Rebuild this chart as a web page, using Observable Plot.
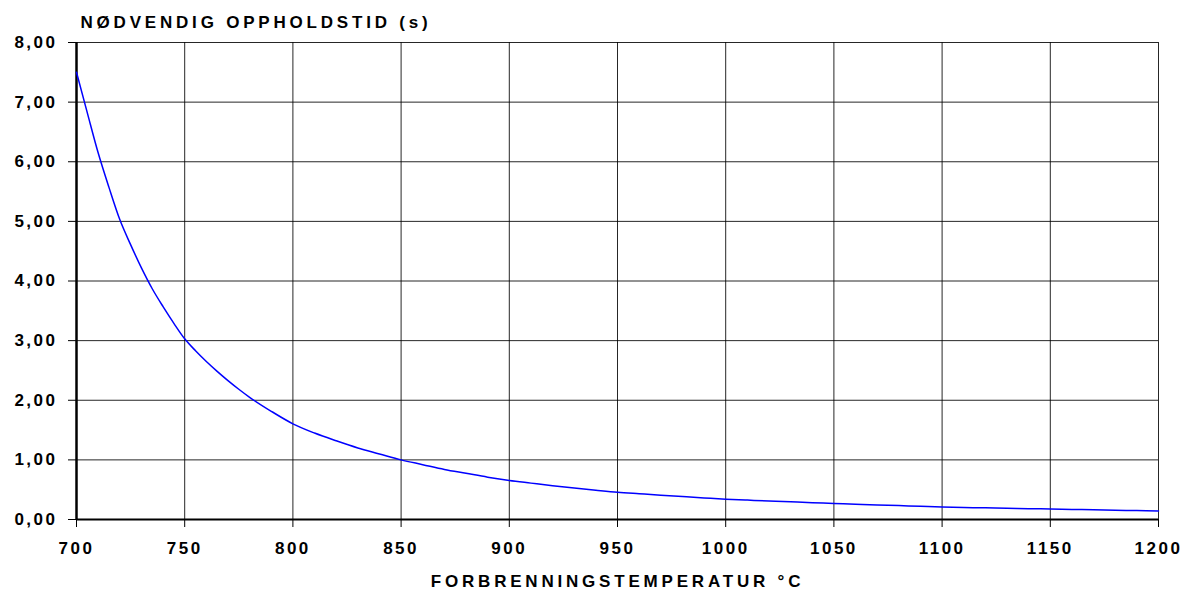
<!DOCTYPE html>
<html><head><meta charset="utf-8">
<script src="https://cdn.jsdelivr.net/npm/d3@7"></script>
<script src="https://cdn.jsdelivr.net/npm/@observablehq/plot@0.6"></script>
<style>
body{margin:0;background:#fff}
.chart text{letter-spacing:2.5px}
.chart g[aria-label="text"] text{letter-spacing:3.8px}
</style>
</head><body><div id="chart"></div>
<script>
const temperatures = [700,705,710,715,720,725,730,735,740,745,750,755,760,765,770,775,780,790,800,810,820,830,840,850,860,870,880,890,900,910,920,930,940,950,960,970,980,990,1000,1010,1020,1030,1040,1050,1060,1070,1080,1090,1100,1110,1120,1130,1140,1150,1160,1170,1180,1190,1200];
const residenceTimes = [7.50,6.82,6.15,5.57,5.03,4.61,4.22,3.87,3.57,3.29,3.03,2.83,2.65,2.485,2.33,2.185,2.05,1.815,1.605,1.45,1.32,1.20,1.10,1.00,0.92,0.84,0.775,0.71,0.654,0.61,0.567,0.528,0.492,0.458,0.432,0.407,0.384,0.362,0.341,0.325,0.31,0.296,0.283,0.27,0.257,0.245,0.233,0.221,0.21,0.202,0.195,0.188,0.182,0.176,0.169,0.162,0.156,0.149,0.143];
const xTicks = [700,750,800,850,900,950,1000,1050,1100,1150,1200];
const yTicks = [0,1,2,3,4,5,6,7,8];
const yTitle = "NØDVENDIG OPPHOLDSTID (s)";
const xTitle = "FORBRENNINGSTEMPERATUR °C";

const data = temperatures.map((t, i) => ({t, v: residenceTimes[i]}));
const fmt = v => v.toFixed(2).replace(".", ",");

const chart = Plot.plot({
  width: 1182, height: 589,
  marginLeft: 76, marginRight: 24, marginTop: 42, marginBottom: 70,
  className: "chart",
  style: {fontFamily: "'Liberation Sans', Arial, sans-serif", fontSize: "17px", fontWeight: "bold", background: "#fff", color: "#000", overflow: "visible"},
  x: {domain: [700, 1200]},
  y: {domain: [0, 8]},
  marks: [
    Plot.gridX(xTicks, {stroke: "#000", strokeOpacity: 0.85, strokeWidth: 1}),
    Plot.gridY(yTicks, {stroke: "#000", strokeOpacity: 0.85, strokeWidth: 1}),
    Plot.axisX(xTicks, {tickSize: 8, tickPadding: 14.5, label: null, tickFormat: d => String(d), stroke: "#000"}),
    Plot.axisY(yTicks, {tickSize: 8, tickPadding: 11, label: null, tickFormat: fmt, stroke: "#000"}),
    Plot.ruleX([700], {stroke: "#000", strokeWidth: 2.5}),
    Plot.ruleY([0], {stroke: "#000", strokeWidth: 2}),
    Plot.line(data, {x: "t", y: "v", stroke: "#0000ff", strokeWidth: 1.5, curve: "monotone-x"}),
    Plot.text([yTitle], {frameAnchor: "top-left", textAnchor: "start", lineAnchor: "middle", dx: 4, dy: -19.5, fontSize: 17, fontWeight: "bold", fill: "#000"}),
    Plot.text([xTitle], {frameAnchor: "bottom", textAnchor: "middle", lineAnchor: "middle", dy: 62, fontSize: 17, fontWeight: "bold", fill: "#000"})
  ]
});
document.getElementById("chart").appendChild(chart);
</script>
</body></html>
